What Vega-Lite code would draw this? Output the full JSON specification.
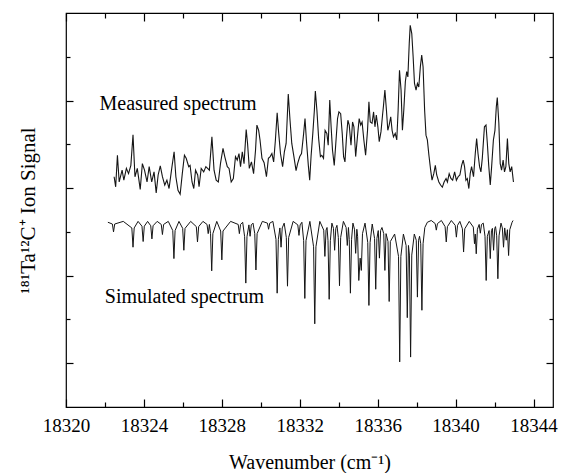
{
  "$schema": "https://vega.github.io/schema/vega-lite/v6.json",
  "width": 487,
  "height": 394,
  "autosize": "none",
  "padding": {"left": 66, "top": 13, "right": 8, "bottom": 66},
  "background": "white",
  "config": {"view": {"stroke": "black", "strokeWidth": 1.2}},
  "datasets": {
    "measured": [
      {"x":18322.47,"y":5.26},{"x":18322.55,"y":5.03},{"x":18322.64,"y":5.75},{"x":18322.73,"y":5.14},{"x":18322.88,"y":5.41},{"x":18322.97,"y":5.18},{"x":18323.10,"y":5.45},{"x":18323.21,"y":5.33},{"x":18323.33,"y":5.52},{"x":18323.44,"y":6.22},{"x":18323.54,"y":5.26},{"x":18323.66,"y":5.45},{"x":18323.81,"y":4.97},{"x":18323.92,"y":5.56},{"x":18324.03,"y":5.41},{"x":18324.16,"y":5.14},{"x":18324.27,"y":5.49},{"x":18324.40,"y":5.14},{"x":18324.52,"y":5.37},{"x":18324.63,"y":4.89},{"x":18324.73,"y":5.30},{"x":18324.84,"y":5.51},{"x":18324.95,"y":5.26},{"x":18325.07,"y":5.07},{"x":18325.18,"y":5.18},{"x":18325.29,"y":4.99},{"x":18325.44,"y":5.49},{"x":18325.55,"y":5.83},{"x":18325.64,"y":5.26},{"x":18325.75,"y":4.95},{"x":18325.86,"y":4.86},{"x":18325.97,"y":5.33},{"x":18326.08,"y":5.75},{"x":18326.17,"y":5.68},{"x":18326.30,"y":5.49},{"x":18326.37,"y":5.52},{"x":18326.47,"y":5.14},{"x":18326.56,"y":4.99},{"x":18326.65,"y":5.41},{"x":18326.76,"y":5.30},{"x":18326.83,"y":5.03},{"x":18326.94,"y":5.45},{"x":18327.07,"y":5.37},{"x":18327.18,"y":5.49},{"x":18327.27,"y":5.45},{"x":18327.36,"y":5.41},{"x":18327.49,"y":6.17},{"x":18327.60,"y":5.41},{"x":18327.71,"y":5.18},{"x":18327.82,"y":5.14},{"x":18327.93,"y":5.56},{"x":18328.06,"y":5.91},{"x":18328.15,"y":5.72},{"x":18328.28,"y":5.49},{"x":18328.37,"y":5.45},{"x":18328.48,"y":5.14},{"x":18328.59,"y":5.22},{"x":18328.70,"y":5.72},{"x":18328.79,"y":5.64},{"x":18328.88,"y":5.79},{"x":18328.96,"y":5.49},{"x":18329.05,"y":5.83},{"x":18329.14,"y":5.56},{"x":18329.25,"y":6.34},{"x":18329.32,"y":6.02},{"x":18329.41,"y":5.45},{"x":18329.52,"y":5.60},{"x":18329.63,"y":5.33},{"x":18329.73,"y":5.87},{"x":18329.80,"y":6.44},{"x":18329.89,"y":6.32},{"x":18329.96,"y":6.10},{"x":18330.06,"y":5.68},{"x":18330.17,"y":5.58},{"x":18330.29,"y":5.26},{"x":18330.39,"y":5.68},{"x":18330.48,"y":5.72},{"x":18330.57,"y":5.79},{"x":18330.66,"y":5.60},{"x":18330.75,"y":6.10},{"x":18330.84,"y":6.72},{"x":18330.92,"y":6.25},{"x":18331.01,"y":5.79},{"x":18331.12,"y":5.49},{"x":18331.21,"y":5.83},{"x":18331.30,"y":6.02},{"x":18331.41,"y":7.15},{"x":18331.50,"y":6.55},{"x":18331.59,"y":6.02},{"x":18331.70,"y":5.72},{"x":18331.81,"y":5.40},{"x":18331.89,"y":5.56},{"x":18332.00,"y":5.72},{"x":18332.09,"y":5.79},{"x":18332.20,"y":6.25},{"x":18332.27,"y":6.59},{"x":18332.34,"y":6.10},{"x":18332.44,"y":5.52},{"x":18332.51,"y":5.18},{"x":18332.58,"y":5.72},{"x":18332.67,"y":6.25},{"x":18332.75,"y":6.78},{"x":18332.80,"y":7.22},{"x":18332.88,"y":6.78},{"x":18332.97,"y":6.13},{"x":18333.06,"y":5.72},{"x":18333.13,"y":5.75},{"x":18333.22,"y":5.68},{"x":18333.30,"y":6.32},{"x":18333.39,"y":6.25},{"x":18333.46,"y":5.98},{"x":18333.54,"y":7.01},{"x":18333.61,"y":6.40},{"x":18333.68,"y":5.87},{"x":18333.77,"y":5.52},{"x":18333.85,"y":6.02},{"x":18333.94,"y":6.59},{"x":18334.01,"y":6.74},{"x":18334.10,"y":6.70},{"x":18334.18,"y":6.25},{"x":18334.25,"y":5.72},{"x":18334.32,"y":5.60},{"x":18334.40,"y":6.17},{"x":18334.47,"y":6.55},{"x":18334.54,"y":6.44},{"x":18334.63,"y":5.98},{"x":18334.71,"y":6.51},{"x":18334.78,"y":6.40},{"x":18334.87,"y":5.72},{"x":18334.96,"y":6.17},{"x":18335.05,"y":6.59},{"x":18335.13,"y":6.44},{"x":18335.20,"y":6.51},{"x":18335.29,"y":6.10},{"x":18335.38,"y":5.75},{"x":18335.48,"y":6.32},{"x":18335.55,"y":6.97},{"x":18335.62,"y":6.51},{"x":18335.71,"y":6.48},{"x":18335.79,"y":6.74},{"x":18335.86,"y":6.40},{"x":18335.93,"y":6.67},{"x":18336.01,"y":6.40},{"x":18336.08,"y":6.06},{"x":18336.17,"y":6.29},{"x":18336.25,"y":6.67},{"x":18336.30,"y":6.89},{"x":18336.37,"y":7.24},{"x":18336.45,"y":6.78},{"x":18336.52,"y":6.32},{"x":18336.59,"y":6.44},{"x":18336.67,"y":6.63},{"x":18336.74,"y":6.32},{"x":18336.81,"y":6.17},{"x":18336.90,"y":6.25},{"x":18336.98,"y":6.10},{"x":18337.05,"y":6.78},{"x":18337.12,"y":7.69},{"x":18337.20,"y":7.24},{"x":18337.27,"y":6.32},{"x":18337.34,"y":6.78},{"x":18337.42,"y":7.43},{"x":18337.49,"y":7.66},{"x":18337.55,"y":7.54},{"x":18337.62,"y":8.30},{"x":18337.67,"y":8.72},{"x":18337.75,"y":8.53},{"x":18337.82,"y":8.00},{"x":18337.89,"y":7.39},{"x":18337.97,"y":7.24},{"x":18338.04,"y":7.39},{"x":18338.11,"y":7.31},{"x":18338.19,"y":7.77},{"x":18338.26,"y":8.04},{"x":18338.33,"y":7.77},{"x":18338.41,"y":6.78},{"x":18338.48,"y":6.21},{"x":18338.55,"y":6.10},{"x":18338.63,"y":5.75},{"x":18338.72,"y":5.41},{"x":18338.79,"y":5.18},{"x":18338.88,"y":5.33},{"x":18338.96,"y":5.52},{"x":18339.03,"y":5.30},{"x":18339.14,"y":5.14},{"x":18339.23,"y":5.07},{"x":18339.32,"y":5.02},{"x":18339.41,"y":5.14},{"x":18339.51,"y":5.22},{"x":18339.58,"y":5.14},{"x":18339.67,"y":5.33},{"x":18339.76,"y":5.22},{"x":18339.85,"y":5.18},{"x":18339.95,"y":5.37},{"x":18340.04,"y":5.18},{"x":18340.13,"y":5.26},{"x":18340.22,"y":5.30},{"x":18340.31,"y":5.52},{"x":18340.39,"y":5.64},{"x":18340.46,"y":5.49},{"x":18340.53,"y":5.18},{"x":18340.60,"y":5.22},{"x":18340.68,"y":4.99},{"x":18340.75,"y":5.33},{"x":18340.82,"y":5.49},{"x":18340.92,"y":5.26},{"x":18341.01,"y":5.79},{"x":18341.08,"y":6.13},{"x":18341.15,"y":5.79},{"x":18341.23,"y":5.49},{"x":18341.30,"y":5.37},{"x":18341.37,"y":5.68},{"x":18341.48,"y":6.40},{"x":18341.56,"y":6.44},{"x":18341.63,"y":6.02},{"x":18341.70,"y":5.52},{"x":18341.78,"y":5.07},{"x":18341.85,"y":5.49},{"x":18341.94,"y":6.10},{"x":18342.02,"y":6.32},{"x":18342.09,"y":6.86},{"x":18342.14,"y":7.07},{"x":18342.22,"y":6.48},{"x":18342.29,"y":5.56},{"x":18342.36,"y":5.41},{"x":18342.44,"y":5.64},{"x":18342.51,"y":5.37},{"x":18342.58,"y":5.49},{"x":18342.66,"y":6.13},{"x":18342.73,"y":5.56},{"x":18342.80,"y":5.37},{"x":18342.88,"y":5.49},{"x":18342.97,"y":5.14}
    ],
    "simulated": [
      {"x":18322.15,"y":4.22},
      {"x":18322.38,"y":4.18},{"x":18322.44,"y":4.00},{"x":18322.50,"y":4.18},{"x":18322.94,"y":4.24},
      {"x":18323.38,"y":4.09},{"x":18323.44,"y":3.65},{"x":18323.50,"y":4.09},{"x":18323.70,"y":4.24},
      {"x":18323.90,"y":4.13},{"x":18323.96,"y":3.78},{"x":18324.02,"y":4.13},{"x":18324.19,"y":4.24},
      {"x":18324.35,"y":4.14},{"x":18324.41,"y":3.84},{"x":18324.47,"y":4.14},{"x":18324.68,"y":4.24},
      {"x":18324.89,"y":4.17},{"x":18324.95,"y":3.94},{"x":18325.01,"y":4.17},{"x":18325.25,"y":4.24},
      {"x":18325.48,"y":4.03},{"x":18325.54,"y":3.39},{"x":18325.60,"y":4.03},{"x":18325.80,"y":4.24},
      {"x":18325.99,"y":4.08},{"x":18326.05,"y":3.58},{"x":18326.11,"y":4.08},{"x":18326.40,"y":4.24},
      {"x":18326.69,"y":4.12},{"x":18326.75,"y":3.77},{"x":18326.81,"y":4.12},{"x":18327.03,"y":4.24},
      {"x":18327.24,"y":4.17},{"x":18327.30,"y":3.96},{"x":18327.36,"y":4.17},
      {"x":18327.42,"y":3.96},{"x":18327.48,"y":3.11},{"x":18327.54,"y":3.96},{"x":18327.74,"y":4.24},
      {"x":18327.94,"y":4.02},{"x":18328.00,"y":3.36},{"x":18328.06,"y":4.02},{"x":18328.45,"y":4.24},
      {"x":18328.84,"y":4.17},{"x":18328.90,"y":3.96},{"x":18328.96,"y":4.17},{"x":18329.07,"y":4.22},
      {"x":18329.17,"y":3.89},{"x":18329.23,"y":2.83},{"x":18329.29,"y":3.89},
      {"x":18329.39,"y":4.16},{"x":18329.45,"y":3.90},{"x":18329.51,"y":4.16},{"x":18329.60,"y":4.20},
      {"x":18329.69,"y":3.96},{"x":18329.75,"y":3.13},{"x":18329.81,"y":3.96},{"x":18330.08,"y":4.24},
      {"x":18330.34,"y":4.20},{"x":18330.40,"y":4.06},{"x":18330.46,"y":4.20},{"x":18330.62,"y":4.24},
      {"x":18330.78,"y":3.83},{"x":18330.84,"y":2.60},{"x":18330.90,"y":3.83},
      {"x":18330.98,"y":4.09},{"x":18331.04,"y":3.65},{"x":18331.10,"y":4.09},{"x":18331.20,"y":4.20},
      {"x":18331.31,"y":3.87},{"x":18331.37,"y":2.76},{"x":18331.43,"y":3.87},{"x":18331.66,"y":4.24},
      {"x":18331.90,"y":4.16},{"x":18331.96,"y":3.92},{"x":18332.02,"y":4.16},{"x":18332.11,"y":4.22},
      {"x":18332.20,"y":3.80},{"x":18332.26,"y":2.48},{"x":18332.32,"y":3.80},{"x":18332.52,"y":4.24},
      {"x":18332.71,"y":3.66},{"x":18332.77,"y":1.90},{"x":18332.83,"y":3.66},{"x":18333.03,"y":4.24},
      {"x":18333.23,"y":4.04},{"x":18333.29,"y":3.44},{"x":18333.35,"y":4.04},{"x":18333.40,"y":4.10},
      {"x":18333.45,"y":3.80},{"x":18333.51,"y":2.46},{"x":18333.57,"y":3.80},{"x":18333.65,"y":4.20},
      {"x":18333.73,"y":4.08},{"x":18333.79,"y":3.58},{"x":18333.85,"y":4.08},{"x":18333.91,"y":4.15},
      {"x":18333.98,"y":3.87},{"x":18334.04,"y":2.77},{"x":18334.10,"y":3.87},{"x":18334.24,"y":4.24},
      {"x":18334.38,"y":4.10},{"x":18334.44,"y":3.69},{"x":18334.50,"y":4.10},
      {"x":18334.54,"y":3.83},{"x":18334.60,"y":2.60},{"x":18334.66,"y":3.83},{"x":18334.73,"y":4.20},
      {"x":18334.81,"y":4.06},{"x":18334.87,"y":3.51},{"x":18334.93,"y":4.06},
      {"x":18334.97,"y":3.90},{"x":18335.03,"y":2.89},{"x":18335.10,"y":3.40},{"x":18335.16,"y":3.12},{"x":18335.22,"y":3.96},{"x":18335.35,"y":4.20},
      {"x":18335.49,"y":3.76},{"x":18335.55,"y":2.32},{"x":18335.61,"y":3.76},{"x":18335.72,"y":4.18},
      {"x":18335.84,"y":3.85},{"x":18335.90,"y":2.69},{"x":18335.96,"y":3.85},
      {"x":18336.03,"y":4.03},{"x":18336.09,"y":3.40},{"x":18336.15,"y":4.03},{"x":18336.22,"y":4.10},
      {"x":18336.31,"y":3.96},{"x":18336.37,"y":3.12},{"x":18336.43,"y":3.96},
      {"x":18336.53,"y":3.78},{"x":18336.59,"y":2.41},{"x":18336.65,"y":3.78},{"x":18336.87,"y":3.95},
      {"x":18337.07,"y":3.44},{"x":18337.13,"y":1.03},{"x":18337.19,"y":3.44},{"x":18337.32,"y":3.95},
      {"x":18337.46,"y":3.69},{"x":18337.52,"y":2.04},{"x":18337.58,"y":3.69},
      {"x":18337.63,"y":3.47},{"x":18337.69,"y":1.14},{"x":18337.75,"y":3.47},{"x":18337.88,"y":3.95},
      {"x":18337.98,"y":3.81},{"x":18338.04,"y":2.51},{"x":18338.10,"y":3.81},{"x":18338.15,"y":3.90},
      {"x":18338.21,"y":3.73},{"x":18338.27,"y":2.21},{"x":18338.33,"y":3.73},{"x":18338.42,"y":4.10},{"x":18338.55,"y":4.22},{"x":18338.75,"y":4.26},
      {"x":18338.95,"y":4.19},{"x":18339.01,"y":4.04},{"x":18339.07,"y":4.19},{"x":18339.27,"y":4.26},
      {"x":18339.46,"y":4.12},{"x":18339.52,"y":3.77},{"x":18339.58,"y":4.12},{"x":18339.78,"y":4.26},
      {"x":18339.98,"y":4.15},{"x":18340.04,"y":3.88},{"x":18340.10,"y":4.15},{"x":18340.22,"y":4.24},
      {"x":18340.35,"y":4.07},{"x":18340.41,"y":3.54},{"x":18340.47,"y":4.07},{"x":18340.70,"y":4.24},
      {"x":18340.91,"y":4.11},{"x":18340.97,"y":3.73},{"x":18341.01,"y":3.95},{"x":18341.06,"y":3.50},{"x":18341.12,"y":4.06},
      {"x":18341.21,"y":4.17},{"x":18341.27,"y":3.97},{"x":18341.33,"y":4.17},{"x":18341.42,"y":4.20},
      {"x":18341.51,"y":3.90},{"x":18341.57,"y":2.89},{"x":18341.63,"y":3.90},
      {"x":18341.72,"y":4.03},{"x":18341.78,"y":3.39},{"x":18341.84,"y":4.03},
      {"x":18341.89,"y":4.08},{"x":18341.95,"y":3.58},{"x":18342.01,"y":4.08},{"x":18342.05,"y":4.12},
      {"x":18342.11,"y":3.91},{"x":18342.17,"y":2.93},{"x":18342.23,"y":3.91},{"x":18342.33,"y":4.20},
      {"x":18342.40,"y":4.09},{"x":18342.46,"y":3.65},{"x":18342.52,"y":4.09},
      {"x":18342.60,"y":3.81},{"x":18342.66,"y":4.05},{"x":18342.72,"y":3.46},{"x":18342.78,"y":4.05},
      {"x":18342.90,"y":4.22},{"x":18342.95,"y":4.26}
    ],
    "labels": [
      {"x":18321.72,"y":6.93,"label":"Measured spectrum"},
      {"x":18321.99,"y":2.51,"label":"Simulated spectrum"}
    ]
  },
  "layer": [
    {
      "data": {"name": "measured"},
      "mark": {"type": "line", "color": "#151515", "strokeWidth": 1.1},
      "encoding": {
        "x": {"field": "x", "type": "quantitative",
          "scale": {"domain": [18320, 18345], "nice": false, "zero": false},
          "axis": {"orient": "bottom", "values": [18320,18324,18328,18332,18336,18340,18344], "format": "d",
            "tickSize": -8, "tickWidth": 1.2, "tickColor": "black", "domain": false, "grid": false,
            "labelFont": "Liberation Serif", "labelFontSize": 19, "labelColor": "black", "labelPadding": 17,
            "labelFlush": false, "labelOverlap": false,
            "title": "Wavenumber (cm⁻¹)", "titleFont": "Liberation Serif", "titleFontSize": 20,
            "titleFontWeight": "normal", "titleColor": "black", "titlePadding": 17}},
        "y": {"field": "y", "type": "quantitative",
          "scale": {"domain": [0, 9], "nice": false, "zero": false},
          "axis": {"orient": "left", "values": [1,3,5,7], "labels": false,
            "tickSize": -7, "tickWidth": 1.2, "tickColor": "black", "domain": false, "grid": false,
            "title": "¹⁸¹Ta¹²C⁺ Ion Signal", "titleFont": "Liberation Serif", "titleFontSize": 21,
            "titleFontWeight": "normal", "titleColor": "black", "titlePadding": 27}}
      }
    },
    {
      "data": {"name": "simulated"},
      "mark": {"type": "line", "color": "#151515", "strokeWidth": 1.0},
      "encoding": {
        "x": {"field": "x", "type": "quantitative",
          "scale": {"domain": [18320, 18345], "nice": false, "zero": false},
          "axis": {"orient": "top", "values": [18320,18324,18328,18332,18336,18340,18344], "labels": false,
            "tickSize": -8, "tickWidth": 1.2, "tickColor": "black", "domain": false, "grid": false, "title": null}},
        "y": {"field": "y", "type": "quantitative",
          "scale": {"domain": [0, 9], "nice": false, "zero": false},
          "axis": {"orient": "right", "values": [1,3,5,7], "labels": false,
            "tickSize": -7, "tickWidth": 1.2, "tickColor": "black", "domain": false, "grid": false, "title": null}}
      }
    },
    {
      "data": {"name": "labels"},
      "transform": [{"filter": "datum.label == 'Measured spectrum'"}],
      "mark": {"type": "text", "align": "left", "baseline": "middle", "font": "Liberation Serif", "fontSize": 20, "color": "black"},
      "encoding": {
        "text": {"field": "label"},
        "x": {"field": "x", "type": "quantitative",
          "scale": {"domain": [18320, 18345], "nice": false, "zero": false},
          "axis": {"orient": "bottom", "values": [18322,18326,18330,18334,18338,18342], "labels": false,
            "tickSize": -5, "tickWidth": 1.2, "tickColor": "black", "domain": false, "grid": false, "title": null}},
        "y": {"field": "y", "type": "quantitative",
          "scale": {"domain": [0, 9], "nice": false, "zero": false},
          "axis": {"orient": "left", "values": [2,4,6,8], "labels": false,
            "tickSize": -4, "tickWidth": 1.2, "tickColor": "black", "domain": false, "grid": false, "title": null}}
      }
    },
    {
      "data": {"name": "labels"},
      "transform": [{"filter": "datum.label == 'Simulated spectrum'"}],
      "mark": {"type": "text", "align": "left", "baseline": "middle", "font": "Liberation Serif", "fontSize": 20, "color": "black"},
      "encoding": {
        "text": {"field": "label"},
        "x": {"field": "x", "type": "quantitative",
          "scale": {"domain": [18320, 18345], "nice": false, "zero": false},
          "axis": {"orient": "top", "values": [18322,18326,18330,18334,18338,18342], "labels": false,
            "tickSize": -5, "tickWidth": 1.2, "tickColor": "black", "domain": false, "grid": false, "title": null}},
        "y": {"field": "y", "type": "quantitative",
          "scale": {"domain": [0, 9], "nice": false, "zero": false},
          "axis": {"orient": "right", "values": [2,4,6,8], "labels": false,
            "tickSize": -4, "tickWidth": 1.2, "tickColor": "black", "domain": false, "grid": false, "title": null}}
      }
    }
  ],
  "resolve": {"axis": {"x": "independent", "y": "independent"}}
}
